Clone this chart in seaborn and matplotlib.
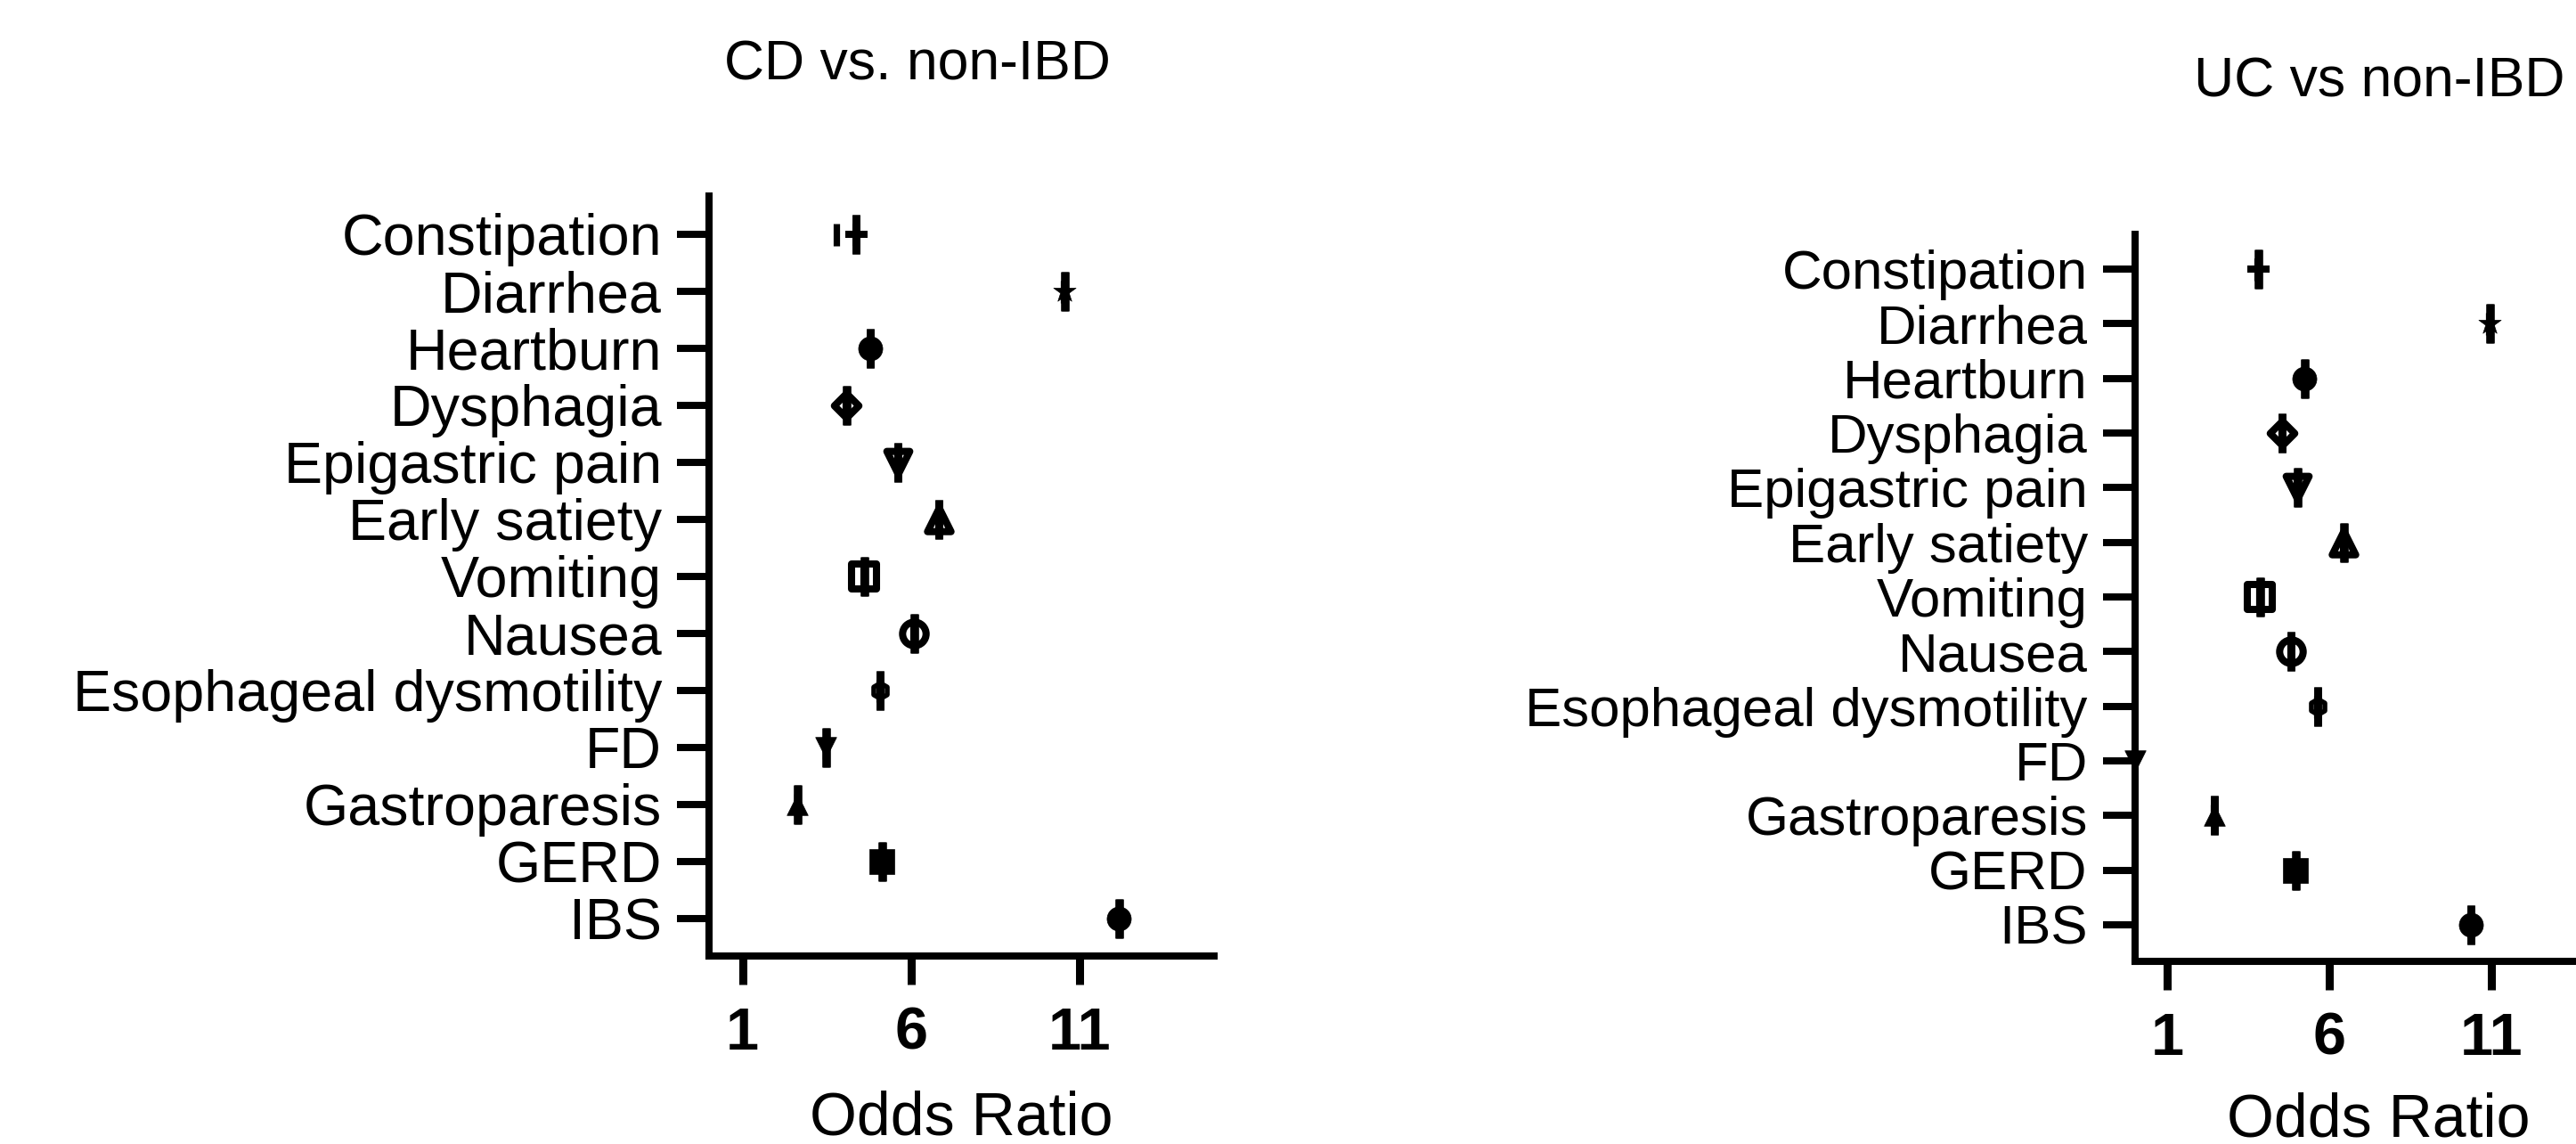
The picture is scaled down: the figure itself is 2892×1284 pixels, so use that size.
import numpy as np
import pandas as pd
import seaborn as sns
import matplotlib.pyplot as plt

# data (top row first)
symptoms = ['Constipation', 'Diarrhea', 'Heartburn', 'Dysphagia', 'Epigastric pain',
            'Early satiety', 'Vomiting', 'Nausea', 'Esophageal dysmotility', 'FD',
            'Gastroparesis', 'GERD', 'IBS']

cd_or = [4.36, 10.56, 4.78, 4.07, 5.60, 6.82, 4.61, 6.08, 5.07, 3.48, 2.63, 5.13, 12.18]
cd_lo = [3.78, 10.54, 4.76, 4.05, 5.58, 6.80, 4.59, 6.06, 5.05, 3.46, 2.61, 5.11, 12.16]
cd_hi = [4.38, 10.58, 4.80, 4.09, 5.62, 6.84, 4.63, 6.10, 5.09, 3.50, 2.65, 5.15, 12.20]

uc_or = [3.80, 10.93, 5.22, 4.53, 5.00, 6.43, 3.85, 4.80, 5.63, 0.0, 2.44, 4.96, 10.35]
uc_lo = [3.78, 10.91, 5.20, 4.51, 4.98, 6.41, 3.83, 4.78, 5.61, np.nan, 2.42, 4.94, 10.33]
uc_hi = [3.82, 10.95, 5.24, 4.55, 5.02, 6.45, 3.87, 4.82, 5.65, np.nan, 2.46, 4.98, 10.37]

xticks = [1, 6, 11]

# one Prism-like symbol per symptom
markers = ['+', '*', 'o', 'D', 'v', '^', 's', 'o', 'h', 'v', '^', 's', 'o']
filled = [True, True, True, False, False, False, False, False, False, True, True, True, True]
msize = [18, 19, 19.5, 14, 18.5, 19, 19.5, 19, 12.5, 17, 17, 19.5, 19.5]
edge = [5.8, 0.5, 0.5, 5.8, 5.8, 5.8, 5.8, 5.8, 4, 0.5, 0.5, 0.5, 0.5]

sns.set_style('ticks', rc={'axes.edgecolor': 'black', 'xtick.color': 'black',
                           'ytick.color': 'black', 'text.color': 'black',
                           'axes.labelcolor': 'black'})
plt.rcParams['font.family'] = ['Liberation Sans', 'DejaVu Sans']

LW = 5.8


def forest(ax, odds, lo, hi, ylim, ysize):
    df = pd.DataFrame({'Symptom': symptoms, 'OR': odds, 'lo': lo, 'hi': hi,
                       'pos': np.arange(len(symptoms))})
    for i, row in df.iterrows():
        fc = 'black' if filled[i] else 'white'
        sns.scatterplot(x=[row['OR']], y=[row['pos']], marker=markers[i], s=msize[i] ** 2,
                        color=fc, edgecolor='black', linewidth=edge[i], ax=ax,
                        zorder=3, clip_on=False, legend=False)
    ok = df.dropna(subset=['lo'])
    zero = np.zeros(len(ok))
    # upper CI caps (tall) and lower CI caps (short)
    ax.errorbar(ok['OR'], ok['pos'], xerr=[zero, ok['hi'] - ok['OR']],
                fmt='none', ecolor='black', elinewidth=0, capsize=15.5, capthick=6.2, zorder=4)
    ax.errorbar(ok['OR'], ok['pos'], xerr=[ok['OR'] - ok['lo'], zero],
                fmt='none', ecolor='black', elinewidth=0, capsize=9, capthick=5.2, zorder=4)

    ax.set_xlim(0, 15)
    ax.set_ylim(*ylim)
    ax.set_xticks(xticks)
    ax.set_xticklabels([str(t) for t in xticks], fontweight='bold')
    ax.set_yticks(df['pos'])
    ax.set_yticklabels(df['Symptom'])
    for s in ['top', 'right']:
        ax.spines[s].set_visible(False)
    for s in ['left', 'bottom']:
        ax.spines[s].set_linewidth(LW)
    ax.tick_params(axis='y', length=26, width=LW, labelsize=ysize, pad=12)
    ax.tick_params(axis='x', length=23, width=6.5, labelsize=48, pad=18)
    ax.set_ylabel('')
    ax.set_xlabel('Odds Ratio', fontsize=49)
    ax.xaxis.label.set_va('center')


fig = plt.figure(figsize=(28.92, 12.84), dpi=100)
ax1 = fig.add_axes([0.2752, 0.1643, 0.1961, 0.6643])
ax2 = fig.add_axes([0.8287, 0.1597, 0.1890, 0.6355])

forest(ax1, cd_or, cd_lo, cd_hi, (12.66, -0.67), 46.5)
forest(ax2, uc_or, uc_lo, uc_hi, (12.67, -0.636), 44.5)
ax1.xaxis.set_label_coords(0.5, -0.214)
ax2.xaxis.set_label_coords(0.5, -0.219)

fig.text(1030 / 2892, 1 - 73 / 1284, 'CD vs. non-IBD', ha='center', va='center', fontsize=45)
fig.text(2671 / 2892, 1 - 92 / 1284, 'UC vs non-IBD', ha='center', va='center', fontsize=45)

fig.savefig('out.png', dpi=100, facecolor='white')
